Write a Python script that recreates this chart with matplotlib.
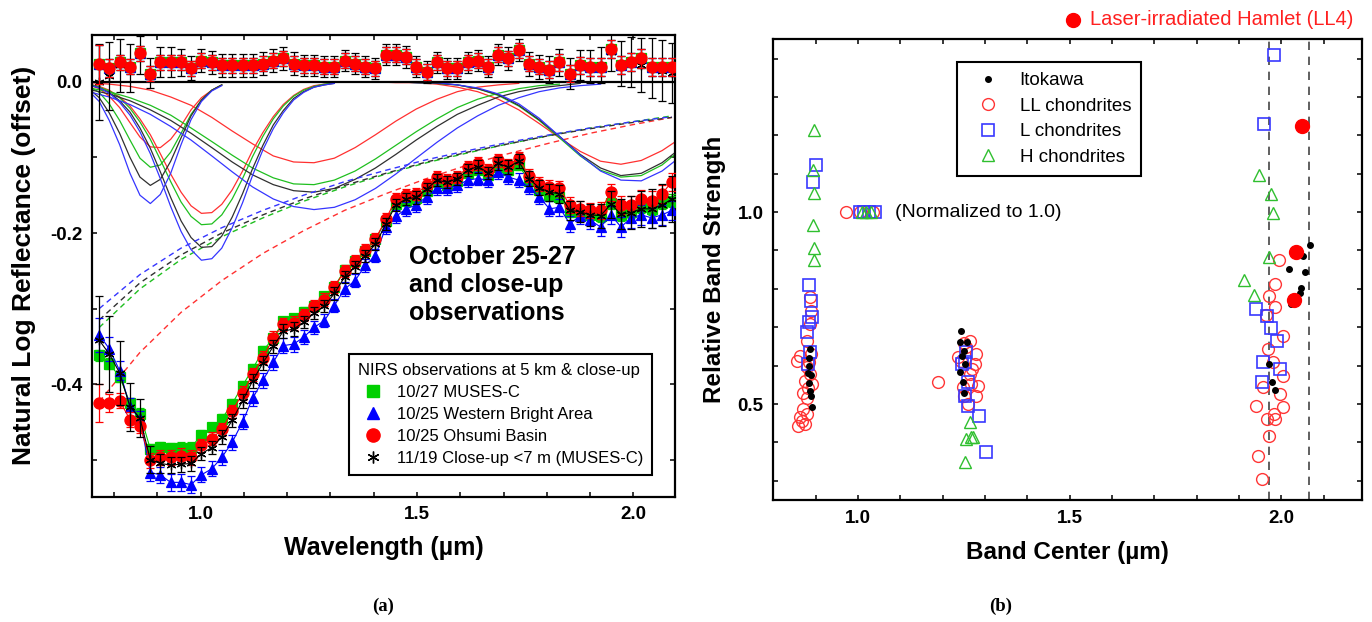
import matplotlib

matplotlib.use('Agg')
import matplotlib.pyplot as plt
import matplotlib.ticker as mticker
from matplotlib.lines import Line2D

plt.rcParams['font.family'] = ['Liberation Sans', 'DejaVu Sans']
plt.rcParams['axes.unicode_minus'] = False

# --- NIRS channel wavelengths (um) ---
CH = [0.742, 0.766, 0.789, 0.813, 0.837, 0.860, 0.884, 0.907, 0.931, 0.955,
      0.978, 1.002, 1.026, 1.049, 1.073, 1.097, 1.120, 1.144, 1.168, 1.191,
      1.215, 1.238, 1.262, 1.286, 1.309, 1.333, 1.357, 1.380, 1.404, 1.428,
      1.451, 1.475, 1.498, 1.522, 1.546, 1.569, 1.593, 1.617, 1.640, 1.664,
      1.688, 1.711, 1.735, 1.758, 1.782, 1.806, 1.829, 1.853, 1.877, 1.900,
      1.924, 1.948, 1.971, 1.995, 2.018, 2.042, 2.066, 2.089, 2.113]
WAVE = CH[1:58]

# --- (a) spectra, natural log reflectance (offset) ---
SPEC_GREEN = [-0.362, -0.373, -0.390, -0.425, -0.439, -0.486, -0.483, -0.485, -0.484, -0.484,
              -0.467, -0.457, -0.446, -0.426, -0.402, -0.380, -0.356, -0.339, -0.317, -0.313,
              -0.304, -0.296, -0.284, -0.271, -0.249, -0.237, -0.224, -0.208, -0.184, -0.162,
              -0.157, -0.154, -0.145, -0.133, -0.136, -0.131, -0.120, -0.116, -0.123, -0.112,
              -0.117, -0.110, -0.131, -0.143, -0.150, -0.152, -0.172, -0.172, -0.176, -0.178,
              -0.160, -0.176, -0.172, -0.165, -0.168, -0.160, -0.157]
SPEC_BLUE = [-0.335, -0.353, -0.382, -0.430, -0.446, -0.517, -0.520, -0.530, -0.530, -0.533,
             -0.520, -0.512, -0.497, -0.477, -0.450, -0.419, -0.395, -0.371, -0.349, -0.347,
             -0.338, -0.325, -0.316, -0.296, -0.274, -0.263, -0.243, -0.230, -0.192, -0.178,
             -0.168, -0.163, -0.152, -0.141, -0.141, -0.137, -0.130, -0.128, -0.130, -0.119,
             -0.126, -0.130, -0.139, -0.152, -0.168, -0.166, -0.188, -0.177, -0.183, -0.192,
             -0.176, -0.192, -0.180, -0.176, -0.180, -0.176, -0.170]
SPEC_RED = [-0.425, -0.425, -0.422, -0.447, -0.455, -0.501, -0.497, -0.497, -0.495, -0.497,
            -0.481, -0.472, -0.460, -0.436, -0.412, -0.387, -0.365, -0.339, -0.321, -0.319,
            -0.308, -0.297, -0.288, -0.272, -0.250, -0.237, -0.223, -0.208, -0.182, -0.155,
            -0.150, -0.148, -0.137, -0.126, -0.130, -0.126, -0.113, -0.108, -0.117, -0.104,
            -0.110, -0.101, -0.124, -0.135, -0.139, -0.141, -0.163, -0.168, -0.170, -0.170,
            -0.146, -0.163, -0.163, -0.155, -0.157, -0.148, -0.132]
SPEC_BLACK = [-0.342, -0.360, -0.385, -0.430, -0.445, -0.500, -0.505, -0.507, -0.506, -0.505,
              -0.492, -0.484, -0.470, -0.448, -0.422, -0.396, -0.372, -0.350, -0.330, -0.327,
              -0.318, -0.306, -0.297, -0.280, -0.258, -0.245, -0.230, -0.215, -0.188, -0.163,
              -0.155, -0.153, -0.142, -0.130, -0.133, -0.128, -0.117, -0.112, -0.120, -0.108,
              -0.113, -0.105, -0.128, -0.140, -0.146, -0.148, -0.170, -0.172, -0.176, -0.177,
              -0.162, -0.175, -0.173, -0.168, -0.168, -0.163, -0.155]

ERR_GREEN = [0.007, 0.007, 0.007, 0.007, 0.007, 0.007, 0.007, 0.007, 0.007, 0.007,
             0.006, 0.006, 0.006, 0.006, 0.006, 0.006, 0.006, 0.006, 0.006, 0.006,
             0.006, 0.006, 0.006, 0.006, 0.006, 0.006, 0.006, 0.006, 0.006, 0.006,
             0.006, 0.006, 0.006, 0.006, 0.006, 0.006, 0.006, 0.006, 0.006, 0.006,
             0.006, 0.006, 0.006, 0.006, 0.007, 0.007, 0.007, 0.007, 0.007, 0.007,
             0.008, 0.008, 0.008, 0.008, 0.008, 0.008, 0.008]
ERR_BLUE = [0.022, 0.016, 0.013, 0.012, 0.011, 0.011, 0.011, 0.011, 0.011, 0.011,
            0.010, 0.010, 0.010, 0.010, 0.010, 0.010, 0.010, 0.010, 0.010, 0.010,
            0.009, 0.009, 0.009, 0.009, 0.009, 0.009, 0.009, 0.009, 0.009, 0.009,
            0.009, 0.009, 0.009, 0.009, 0.009, 0.009, 0.009, 0.009, 0.009, 0.009,
            0.009, 0.009, 0.010, 0.010, 0.010, 0.011, 0.011, 0.011, 0.012, 0.012,
            0.012, 0.013, 0.013, 0.013, 0.013, 0.013, 0.013]
ERR_RED = [0.025, 0.012, 0.010, 0.010, 0.010, 0.010, 0.010, 0.010, 0.010, 0.010,
           0.009, 0.009, 0.009, 0.009, 0.009, 0.009, 0.009, 0.009, 0.009, 0.009,
           0.008, 0.008, 0.008, 0.008, 0.008, 0.008, 0.008, 0.008, 0.008, 0.008,
           0.008, 0.008, 0.008, 0.008, 0.008, 0.008, 0.008, 0.008, 0.008, 0.008,
           0.008, 0.008, 0.009, 0.009, 0.009, 0.010, 0.010, 0.010, 0.010, 0.011,
           0.011, 0.012, 0.012, 0.012, 0.012, 0.012, 0.012]
ERR_BLACK = [0.058, 0.050, 0.042, 0.032, 0.025, 0.018, 0.013, 0.011, 0.010, 0.010,
             0.009, 0.009, 0.009, 0.009, 0.009, 0.009, 0.009, 0.009, 0.009, 0.009,
             0.008, 0.008, 0.008, 0.008, 0.008, 0.008, 0.008, 0.008, 0.008, 0.008,
             0.008, 0.008, 0.008, 0.008, 0.008, 0.008, 0.008, 0.008, 0.008, 0.008,
             0.009, 0.009, 0.010, 0.010, 0.011, 0.012, 0.013, 0.014, 0.015, 0.016,
             0.018, 0.020, 0.022, 0.024, 0.026, 0.028, 0.030]

# --- residuals (plotted at +offset above the 0.0 line) ---
RESID = [0.023, 0.018, 0.026, 0.020, 0.038, 0.011, 0.026, 0.026, 0.026, 0.018,
         0.028, 0.026, 0.022, 0.022, 0.022, 0.022, 0.024, 0.028, 0.031, 0.024,
         0.022, 0.022, 0.020, 0.020, 0.028, 0.024, 0.020, 0.018, 0.036, 0.036,
         0.033, 0.020, 0.013, 0.026, 0.018, 0.018, 0.026, 0.028, 0.020, 0.036,
         0.031, 0.042, 0.024, 0.020, 0.016, 0.026, 0.011, 0.022, 0.020, 0.020,
         0.044, 0.022, 0.026, 0.031, 0.020, 0.020, 0.020]
RESID_BLACK = [0.000, 0.008, 0.022, 0.018, 0.036, 0.012, 0.026, 0.026, 0.026, 0.018,
               0.028, 0.026, 0.022, 0.022, 0.022, 0.022, 0.024, 0.028, 0.031, 0.024,
               0.022, 0.022, 0.020, 0.020, 0.028, 0.024, 0.020, 0.018, 0.036, 0.036,
               0.033, 0.020, 0.013, 0.026, 0.018, 0.018, 0.026, 0.028, 0.020, 0.036,
               0.031, 0.042, 0.024, 0.020, 0.016, 0.026, 0.011, 0.022, 0.020, 0.022,
               0.040, 0.024, 0.026, 0.022, 0.018, 0.015, 0.012]
RES_ERR_COLOR = [0.026, 0.012, 0.010, 0.010, 0.010, 0.010, 0.010, 0.010, 0.010, 0.010,
                 0.010, 0.010, 0.010, 0.010, 0.010, 0.010, 0.010, 0.010, 0.010, 0.010,
                 0.010, 0.010, 0.010, 0.010, 0.010, 0.010, 0.010, 0.010, 0.010, 0.010,
                 0.010, 0.010, 0.010, 0.010, 0.010, 0.010, 0.010, 0.010, 0.010, 0.010,
                 0.010, 0.010, 0.010, 0.010, 0.011, 0.011, 0.011, 0.011, 0.012, 0.012,
                 0.012, 0.012, 0.012, 0.012, 0.012, 0.012, 0.012]
RES_ERR_BLACK = [0.050, 0.045, 0.035, 0.032, 0.025, 0.020, 0.020, 0.020, 0.018, 0.016,
                 0.015, 0.015, 0.015, 0.015, 0.015, 0.015, 0.015, 0.015, 0.015, 0.015,
                 0.014, 0.014, 0.014, 0.014, 0.014, 0.014, 0.014, 0.014, 0.014, 0.014,
                 0.014, 0.014, 0.014, 0.014, 0.014, 0.014, 0.014, 0.014, 0.014, 0.014,
                 0.015, 0.015, 0.016, 0.016, 0.018, 0.018, 0.020, 0.020, 0.022, 0.024,
                 0.026, 0.030, 0.033, 0.036, 0.040, 0.040, 0.040]

# --- band components (sampled on CH) ---
BAND1 = {  # CH[0:14]
    'red':   [-0.004, -0.009, -0.019, -0.034, -0.054, -0.073, -0.086, -0.087, -0.076, -0.058, -0.037, -0.021, -0.011, -0.004],
    'green': [-0.006, -0.014, -0.029, -0.051, -0.077, -0.101, -0.113, -0.110, -0.093, -0.068, -0.043, -0.024, -0.011, -0.004],
    'black': [-0.009, -0.021, -0.041, -0.068, -0.100, -0.126, -0.137, -0.129, -0.105, -0.074, -0.045, -0.024, -0.011, -0.004],
    'blue':  [-0.012, -0.026, -0.051, -0.083, -0.121, -0.150, -0.161, -0.149, -0.121, -0.083, -0.050, -0.026, -0.012, -0.005],
}
BAND2 = {  # CH[0:25]
    'red':   [-0.003, -0.006, -0.011, -0.020, -0.032, -0.049, -0.070, -0.095, -0.122, -0.146, -0.164, -0.174, -0.173,
              -0.162, -0.143, -0.118, -0.091, -0.067, -0.046, -0.030, -0.018, -0.010, -0.005, -0.003, -0.001],
    'green': [-0.003, -0.007, -0.012, -0.021, -0.035, -0.053, -0.076, -0.103, -0.132, -0.159, -0.178, -0.189, -0.188,
              -0.176, -0.155, -0.128, -0.099, -0.072, -0.049, -0.032, -0.019, -0.011, -0.006, -0.003, -0.001],
    'black': [-0.004, -0.008, -0.014, -0.025, -0.040, -0.061, -0.088, -0.119, -0.153, -0.184, -0.206, -0.219, -0.218,
              -0.204, -0.179, -0.148, -0.115, -0.084, -0.057, -0.038, -0.022, -0.013, -0.007, -0.004, -0.002],
    'blue':  [-0.004, -0.008, -0.015, -0.027, -0.044, -0.066, -0.095, -0.128, -0.165, -0.198, -0.222, -0.236, -0.234,
              -0.220, -0.193, -0.160, -0.124, -0.090, -0.062, -0.041, -0.024, -0.014, -0.007, -0.004, -0.002],
}
BAND3 = {  # CH[0::2]
    'red':   [-0.001, -0.003, -0.006, -0.011, -0.020, -0.031, -0.047, -0.065, -0.082, -0.098, -0.106, -0.107,
              -0.101, -0.087, -0.070, -0.052, -0.036, -0.023, -0.013, -0.007, -0.004, -0.002],
    'green': [-0.008, -0.013, -0.021, -0.031, -0.044, -0.061, -0.079, -0.097, -0.114, -0.127, -0.135, -0.136,
              -0.130, -0.118, -0.102, -0.084, -0.066, -0.049, -0.034, -0.023, -0.015, -0.009, -0.005, -0.003],
    'black': [-0.010, -0.016, -0.025, -0.037, -0.051, -0.068, -0.087, -0.106, -0.123, -0.136, -0.144, -0.146,
              -0.141, -0.129, -0.114, -0.096, -0.077, -0.059, -0.043, -0.031, -0.020, -0.013, -0.008, -0.005, -0.002],
    'blue':  [-0.013, -0.020, -0.030, -0.043, -0.059, -0.077, -0.098, -0.119, -0.139, -0.155, -0.165, -0.169,
              -0.166, -0.156, -0.141, -0.122, -0.101, -0.080, -0.061, -0.045, -0.031, -0.021, -0.013, -0.008,
              -0.005, -0.003],
}
BAND4 = {  # CH[28::2]
    'red':   [0.000, -0.001, -0.001, -0.003, -0.007, -0.013, -0.023, -0.037, -0.055, -0.074, -0.092, -0.105, -0.109, -0.104, -0.091, -0.073],
    'green': [0.000, 0.000, -0.001, -0.002, -0.004, -0.009, -0.018, -0.032, -0.051, -0.074, -0.098, -0.117, -0.126, -0.124, -0.110, -0.088],
    'black': [0.000, 0.000, -0.001, -0.002, -0.004, -0.009, -0.017, -0.031, -0.050, -0.072, -0.096, -0.114, -0.124, -0.121, -0.107, -0.086],
    'blue':  [0.000, 0.000, -0.001, -0.001, -0.004, -0.008, -0.016, -0.029, -0.048, -0.072, -0.097, -0.118, -0.130, -0.131, -0.118, -0.097],
}
CONTINUUM = {  # CH[1::4]
    'red':   [-0.423, -0.358, -0.305, -0.263, -0.227, -0.197, -0.170, -0.148, -0.128, -0.110, -0.095, -0.081, -0.068, -0.057, -0.047],
    'green': [-0.325, -0.274, -0.235, -0.205, -0.180, -0.158, -0.139, -0.122, -0.107, -0.094, -0.082, -0.071, -0.061, -0.053, -0.045],
    'black': [-0.315, -0.266, -0.229, -0.200, -0.176, -0.155, -0.137, -0.121, -0.106, -0.093, -0.082, -0.071, -0.062, -0.054, -0.047],
    'blue':  [-0.300, -0.255, -0.220, -0.193, -0.170, -0.150, -0.132, -0.117, -0.103, -0.091, -0.080, -0.070, -0.061, -0.053, -0.046],
}
MODEL_COLORS = {'red': '#ff3030', 'green': '#1fbf1f', 'black': '#303030', 'blue': '#3535ff'}

# --- (b) band centers / relative band strengths ---
ITOKAWA_X = [0.887, 0.884, 0.885, 0.889, 0.884, 0.887, 0.891, 0.882, 0.888,
             1.243, 1.241, 1.257, 1.250, 1.252, 1.240, 1.248, 1.250, 1.245,
             2.067, 2.052, 2.018, 2.057, 2.046, 2.045, 2.024, 1.972, 1.978, 1.984]
ITOKAWA_Y = [0.643, 0.620, 0.600, 0.575, 0.555, 0.535, 0.491, 0.580, 0.520,
             0.691, 0.661, 0.661, 0.639, 0.604, 0.583, 0.557, 0.530, 0.625,
             0.913, 0.885, 0.853, 0.845, 0.803, 0.789, 0.761, 0.604, 0.557, 0.537]
LL_X = [0.887, 0.889, 0.887, 0.879, 0.855, 0.863, 0.879, 0.887, 0.871, 0.883, 0.891,
        0.879, 0.871, 0.863, 0.859, 0.875, 0.879, 0.885, 0.890, 0.875, 0.867,
        0.973, 1.035, 1.005,
        1.189, 1.264, 1.280, 1.237, 1.276, 1.264, 1.284, 1.280, 1.250, 1.260, 1.248,
        1.256, 1.244, 1.268, 1.250, 1.270,
        1.994, 1.984, 1.971, 1.984, 1.965, 2.004, 1.969, 1.980, 2.004, 1.958,
        1.996, 1.941, 2.004, 1.983, 1.966, 1.984, 1.970, 1.945, 1.955]
LL_Y = [0.778, 0.743, 0.709, 0.665, 0.613, 0.626, 0.596, 0.578, 0.530, 0.543, 0.552,
        0.517, 0.487, 0.465, 0.443, 0.448, 0.474, 0.610, 0.630, 0.560, 0.455,
        1.0, 1.0, 1.0,
        0.557, 0.665, 0.631, 0.622, 0.604, 0.578, 0.548, 0.522, 0.522, 0.500, 0.544,
        0.648, 0.613, 0.552, 0.660, 0.590,
        0.876, 0.813, 0.781, 0.752, 0.733, 0.676, 0.643, 0.609, 0.574, 0.545,
        0.526, 0.496, 0.491, 0.474, 0.461, 0.461, 0.417, 0.365, 0.304]
L_X = [0.902, 0.895, 0.885, 0.889, 0.891, 0.885, 0.879, 0.887, 0.883,
       1.004, 1.015, 1.025, 1.040,
       1.256, 1.252, 1.245, 1.260, 1.254, 1.260, 1.287, 1.303,
       1.983, 1.959, 1.941, 1.966, 1.976, 1.990, 1.958, 1.996, 1.954]
L_Y = [1.122, 1.078, 0.809, 0.768, 0.726, 0.713, 0.687, 0.635, 0.604,
       1.0, 1.0, 1.0, 1.0,
       0.635, 0.609, 0.604, 0.557, 0.522, 0.496, 0.470, 0.376,
       1.409, 1.230, 0.748, 0.729, 0.697, 0.665, 0.610, 0.591, 0.557]
H_X = [0.897, 0.895, 0.897, 0.894, 0.897, 0.897,
       1.010, 1.020, 1.030,
       1.264, 1.256, 1.266, 1.272, 1.253,
       1.947, 1.976, 1.980, 1.971, 1.912, 1.935]
H_Y = [1.213, 1.109, 1.050, 0.967, 0.907, 0.874,
       1.0, 1.0, 1.0,
       0.452, 0.409, 0.413, 0.415, 0.348,
       1.096, 1.048, 0.997, 0.883, 0.822, 0.783]
HAMLET_X = [2.049, 2.034, 2.029]
HAMLET_Y = [1.223, 0.897, 0.771]
DASHED_CENTERS = [1.970, 2.065]

TICK_FS = 13.5
ASTERISK = (6, 2, 0)


def style_axes(ax, xmajor, ymajor):
    ax.xaxis.set_major_locator(mticker.MultipleLocator(xmajor))
    ax.xaxis.set_minor_locator(mticker.MultipleLocator(0.1))
    ax.yaxis.set_major_locator(mticker.MultipleLocator(ymajor))
    ax.yaxis.set_minor_locator(mticker.MultipleLocator(0.1))
    fmt = mticker.FuncFormatter(lambda v, p: f'{round(v, 2) + 0.0:.1f}')
    ax.xaxis.set_major_formatter(fmt)
    ax.yaxis.set_major_formatter(fmt)
    ax.tick_params(which='both', direction='in', length=3.3, width=1.1,
                   top=True, right=True, labelsize=TICK_FS, pad=7)
    for lab in ax.get_xticklabels() + ax.get_yticklabels():
        lab.set_fontweight('bold')
    for sp in ax.spines.values():
        sp.set_linewidth(1.6)


fig = plt.figure(figsize=(13.72, 6.22), dpi=100)

# ================= (a) =================
ax1 = fig.add_axes([0.0673, 0.2014, 0.4247, 0.7423])

for c in ['red', 'green', 'black', 'blue']:
    mc = MODEL_COLORS[c]
    ax1.plot(CH[0:14], BAND1[c], color=mc, lw=0.9, zorder=2)
    ax1.plot(CH[0:25], BAND2[c], color=mc, lw=0.9, zorder=2)
    ax1.plot(CH[0::2][:len(BAND3[c])], BAND3[c], color=mc, lw=0.9, zorder=2)
    ax1.plot(CH[28::2], BAND4[c], color=mc, lw=0.9, zorder=2)
    ax1.plot(CH[1::4], CONTINUUM[c], color=mc, lw=1.0, ls=(0, (4, 3)), zorder=2)

ax1.axhline(0.0, color='black', lw=1.6, zorder=3)

series = [
    ('10/27 MUSES-C', SPEC_GREEN, ERR_GREEN, RESID, RES_ERR_COLOR, 's', '#00d000', 7.5, 4),
    ('10/25 Western Bright Area', SPEC_BLUE, ERR_BLUE, RESID, RES_ERR_COLOR, '^', '#0000ff', 7.5, 5),
    ('10/25 Ohsumi Basin', SPEC_RED, ERR_RED, RESID, RES_ERR_COLOR, 'o', '#ff0000', 8, 7),
    ('11/19 Close-up <7 m (MUSES-C)', SPEC_BLACK, ERR_BLACK, RESID_BLACK, RES_ERR_BLACK, ASTERISK, 'black', 7, 6),
]
handles = []
for z, (label, spec, err, res, res_err, mk, col, ms, rz) in enumerate(series):
    zo = 4 + z
    ax1.errorbar(WAVE, spec, yerr=err, fmt='none', ecolor=col, elinewidth=0.9,
                 capsize=2.6, capthick=0.9, zorder=zo)
    ax1.plot(WAVE, spec, color=col, lw=0.8, marker=mk, ms=ms, mew=0.9, zorder=zo)
    ax1.errorbar(WAVE, res, yerr=res_err, fmt='none', ecolor=col, elinewidth=0.9,
                 capsize=2.6, capthick=0.9, zorder=rz)
    ax1.plot(WAVE, res, ls='none', color=col, marker=mk, ms=ms, mew=0.9, zorder=rz)
    handles.append(Line2D([], [], ls='none', marker=mk, color=col, ms=ms + 1.5, mew=1.0))

ax1.set_xlim(0.75, 2.096)
ax1.set_ylim(-0.549, 0.062)
style_axes(ax1, 0.5, 0.2)
ax1.set_xlabel('Wavelength (µm)', fontsize=18, fontweight='bold', labelpad=9)
ax1.set_ylabel('Natural Log Reflectance (offset)', fontsize=19, fontweight='bold', labelpad=10)

ax1.text(0.5435, 0.545, 'October 25-27\nand close-up\nobservations', transform=ax1.transAxes,
         fontsize=18, fontweight='bold', ha='left', va='top', zorder=10)

leg1 = ax1.legend(handles, [s[0] for s in series], title='NIRS observations at 5 km & close-up',
                  loc='lower right', bbox_to_anchor=(0.961, 0.047), fontsize=12, title_fontsize=12,
                  alignment='left', fancybox=False, framealpha=1, edgecolor='black',
                  borderpad=0.55, labelspacing=0.42, handlelength=1.8, handletextpad=0.5,
                  borderaxespad=0)
leg1.get_frame().set_linewidth(1.5)
leg1.set_zorder(20)

# ================= (b) =================
ax2 = fig.add_axes([0.5636, 0.1961, 0.4289, 0.7407])

for xc in DASHED_CENTERS:
    ax2.axvline(xc, color='#444444', lw=1.2, ls=(0, (5, 4)), zorder=1)

h_ll, = ax2.plot(LL_X, LL_Y, ls='none', marker='o', ms=8.5, mfc='none', mec='#ff3535', mew=1.0, zorder=3)
h_l, = ax2.plot(L_X, L_Y, ls='none', marker='s', ms=8.5, mfc='none', mec='#3838ff', mew=1.2, zorder=4)
h_h, = ax2.plot(H_X, H_Y, ls='none', marker='^', ms=9, mfc='none', mec='#2fbf2f', mew=1.0, zorder=5)
h_it, = ax2.plot(ITOKAWA_X, ITOKAWA_Y, ls='none', marker='o', ms=4, color='black', zorder=6)
ax2.plot(HAMLET_X, HAMLET_Y, ls='none', marker='o', ms=10, color='#ff0000', zorder=7)

ax2.text(1.087, 1.0, '(Normalized to 1.0)', fontsize=14, ha='left', va='center')

ax2.set_xlim(0.80, 2.19)
ax2.set_ylim(0.25, 1.45)
style_axes(ax2, 0.5, 0.5)
ax2.set_xlabel('Band Center (µm)', fontsize=17.5, fontweight='bold', labelpad=10)
ax2.set_ylabel('Relative Band Strength', fontsize=17.5, fontweight='bold', labelpad=8)

leg2 = ax2.legend([h_it, h_ll, h_l, h_h], ['Itokawa', 'LL chondrites', 'L chondrites', 'H chondrites'],
                  loc='upper left', bbox_to_anchor=(0.312, 0.951), fontsize=13.5,
                  fancybox=False, framealpha=1, edgecolor='black', borderpad=0.55,
                  labelspacing=0.45, handlelength=2.2, handletextpad=0.6, borderaxespad=0)
leg2.get_frame().set_linewidth(1.5)

# Laser-irradiated Hamlet key above panel (b)
fig.add_artist(Line2D([0.782], [0.968], transform=fig.transFigure, ls='none',
                      marker='o', ms=10, color='#ff0000'))
fig.text(0.7945, 0.968, 'Laser-irradiated Hamlet (LL4)', color='#ff2020', fontsize=14.5,
         ha='left', va='center')

fig.text(383 / 1372, 1 - 606 / 622, '(a)', fontsize=13.5, fontweight='bold',
         family=['Liberation Serif', 'DejaVu Serif'], ha='center', va='center')
fig.text(1001 / 1372, 1 - 606 / 622, '(b)', fontsize=13.5, fontweight='bold',
         family=['Liberation Serif', 'DejaVu Serif'], ha='center', va='center')

fig.savefig('out.png', dpi=100)
